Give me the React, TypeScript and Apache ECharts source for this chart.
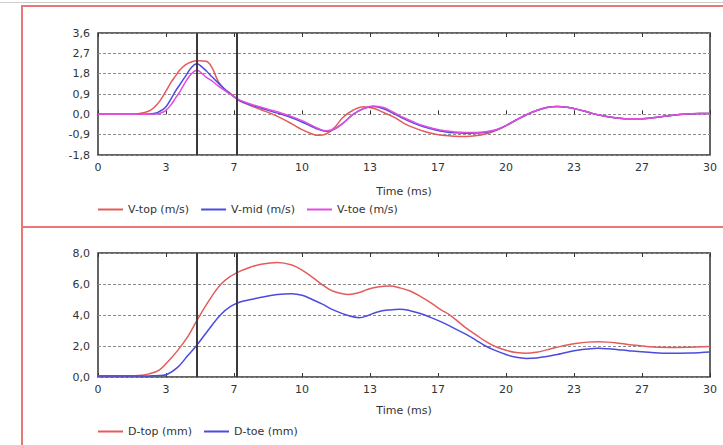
import React, { useEffect, useRef } from "react";
import * as echarts from "echarts";

// ---- Data ----
const markerTimes = [4.85, 6.82];
const xTickInterval = 10 / 3;

const vTime = [0, 1, 1.5, 2, 2.5, 2.8, 3, 3.3, 3.6, 3.8, 4, 4.3, 4.6, 4.85, 5, 5.3, 5.6, 5.9, 6.2, 6.5, 6.9, 7.5, 8, 8.5, 9, 9.5, 10, 10.5, 10.8, 11.2, 11.6, 12, 12.5, 13, 13.5, 14, 14.5, 15, 15.5, 16, 16.5, 17, 17.5, 18, 18.5, 19, 19.5, 20, 20.5, 21, 21.5, 22, 22.5, 23, 23.5, 24, 24.5, 25, 25.5, 26, 26.5, 27, 27.5, 28, 28.5, 29, 29.5, 30];
const vTop = [0, 0, 0, 0.03, 0.15, 0.35, 0.55, 0.98, 1.45, 1.7, 1.95, 2.2, 2.33, 2.37, 2.37, 2.35, 2.05, 1.45, 1.12, 0.92, 0.62, 0.38, 0.2, 0.03, -0.18, -0.42, -0.68, -0.87, -0.93, -0.86, -0.58, -0.14, 0.18, 0.34, 0.27, 0.08, -0.12, -0.4, -0.6, -0.76, -0.87, -0.94, -0.97, -0.98, -0.95, -0.87, -0.72, -0.5, -0.25, -0.02, 0.17, 0.3, 0.35, 0.31, 0.22, 0.1, -0.02, -0.11, -0.17, -0.2, -0.2, -0.17, -0.12, -0.06, -0.01, 0.02, 0.04, 0.04];
const vMid = [0, 0, 0, 0, 0.01, 0.05, 0.12, 0.3, 0.72, 1.03, 1.3, 1.7, 2.1, 2.24, 2.17, 1.93, 1.65, 1.38, 1.12, 0.9, 0.63, 0.42, 0.28, 0.13, 0.0, -0.15, -0.34, -0.55, -0.66, -0.75, -0.65, -0.4, 0.0, 0.25, 0.35, 0.25, 0.03, -0.2, -0.4, -0.56, -0.68, -0.77, -0.82, -0.84, -0.83, -0.8, -0.7, -0.5, -0.25, -0.02, 0.17, 0.3, 0.35, 0.31, 0.22, 0.1, -0.02, -0.11, -0.17, -0.2, -0.2, -0.17, -0.12, -0.06, -0.01, 0.02, 0.04, 0.04];
const vToe = [0, 0, 0, 0, 0, 0.01, 0.04, 0.15, 0.45, 0.72, 0.98, 1.45, 1.82, 1.95, 1.88, 1.65, 1.47, 1.25, 1.06, 0.88, 0.65, 0.45, 0.32, 0.18, 0.05, -0.1, -0.28, -0.5, -0.63, -0.73, -0.64, -0.4, -0.01, 0.24, 0.37, 0.3, 0.08, -0.15, -0.35, -0.52, -0.64, -0.73, -0.78, -0.8, -0.8, -0.77, -0.68, -0.5, -0.25, -0.02, 0.17, 0.3, 0.35, 0.31, 0.22, 0.1, -0.02, -0.11, -0.17, -0.2, -0.2, -0.17, -0.12, -0.06, -0.01, 0.02, 0.04, 0.04];

const dTime = [0, 1, 2, 2.5, 3, 3.4, 3.9, 4.4, 4.85, 5.4, 6, 6.5, 7, 7.5, 8, 8.8, 9.5, 10, 10.5, 11, 11.5, 12.3, 12.8, 13.2, 13.7, 14.3, 14.8, 15.3, 15.8, 16.3, 16.8, 17.3, 18, 18.5, 19, 19.5, 20, 20.5, 21, 21.5, 22, 22.5, 23, 23.5, 24, 24.5, 25, 25.5, 26, 27, 28, 29, 30];
const dTop = [0.08, 0.08, 0.1, 0.2, 0.45, 0.95, 1.7, 2.6, 3.65, 4.85, 5.95, 6.5, 6.85, 7.1, 7.28, 7.38, 7.22, 6.9, 6.45, 5.95, 5.55, 5.33, 5.45, 5.65, 5.8, 5.87, 5.75, 5.55, 5.2, 4.8, 4.35, 3.95, 3.2, 2.75, 2.3, 1.95, 1.72, 1.58, 1.53, 1.6, 1.75, 1.92, 2.07, 2.18, 2.25, 2.28, 2.25, 2.18, 2.1, 1.95, 1.9, 1.92, 1.96];
const dToe = [0.06, 0.06, 0.06, 0.07, 0.09, 0.18, 0.62, 1.38, 2.06, 3.02, 4.0, 4.55, 4.85, 5.0, 5.14, 5.32, 5.37, 5.27, 5.0, 4.7, 4.35, 3.95, 3.83, 3.95, 4.2, 4.33, 4.37, 4.28, 4.1, 3.85, 3.57, 3.25, 2.78, 2.4, 2.0, 1.7, 1.45, 1.27, 1.2, 1.23, 1.32, 1.45, 1.6, 1.72, 1.8, 1.85, 1.82, 1.76, 1.7, 1.6, 1.53, 1.55, 1.62];

const vNames = ["V-top (m/s)", "V-mid (m/s)", "V-toe (m/s)"];
const dNames = ["D-top (mm)", "D-toe (mm)"];
const xName = "Time (ms)";

const RED = "#e45b5b";
const BLUE = "#4b4be0";
const MAGENTA = "#e04ee0";
const FONT = "DejaVu Sans";

const pair = (t: number[], v: number[]) => t.map((x, i) => [x, v[i]]);
const fmtComma = (v: number) => (Math.abs(v) < 1e-9 ? 0 : v).toFixed(1).replace(".", ",");

export default function App() {
  const ref = useRef<HTMLDivElement>(null);
  useEffect(() => {
    if (!ref.current) return;
    const chart = echarts.init(ref.current, null, { renderer: "svg" });
    const txt = { fontFamily: FONT, fontSize: 11, color: "#333" };
    const grids = [
      { left: 98, right: 13, top: 33, height: 122 },
      { left: 98, right: 13, top: 253, height: 124 },
    ].map((g) => ({ ...g, show: true, borderColor: "#333", borderWidth: 1.5, backgroundColor: "transparent" }));

    const xBottom = (gi: number, gap: number) => ({
      type: "value", gridIndex: gi, min: 0, max: 30, interval: xTickInterval,
      axisLine: { show: false },
      axisTick: { show: true, inside: true, length: 4, lineStyle: { color: "#333" } },
      axisLabel: { ...txt, margin: 7, formatter: (v: number) => String(Math.round(v)) },
      splitLine: { show: false },
      name: xName, nameLocation: "middle", nameGap: gap,
      nameTextStyle: { ...txt },
    });
    const xTop = (gi: number) => ({
      type: "value", gridIndex: gi, position: "top", min: 0, max: 30, interval: xTickInterval,
      axisLine: { show: false },
      axisTick: { show: true, inside: true, length: 4, lineStyle: { color: "#333" } },
      axisLabel: { show: false }, splitLine: { show: false },
    });
    const yAxis = (gi: number, min: number, max: number, interval: number) => ({
      type: "value", gridIndex: gi, min, max, interval,
      axisLine: { show: false }, axisTick: { show: false },
      axisLabel: { ...txt, margin: 8, formatter: fmtComma },
      splitLine: { show: true, lineStyle: { color: "#8a8a8a", type: [3, 2], width: 1 } },
    });
    const markLine = {
      silent: true, symbol: "none", label: { show: false },
      lineStyle: { color: "#3a3a3a", width: 2, type: "solid" },
      data: markerTimes.map((t) => ({ xAxis: t })),
    };
    const line = (name: string, data: number[][], color: string, xi: number, yi: number, ml?: any) => ({
      type: "line", name, data, xAxisIndex: xi, yAxisIndex: yi,
      showSymbol: false, symbol: "none", smooth: 0.4,
      lineStyle: { color, width: 1.5 }, itemStyle: { color },
      ...(ml ? { markLine: ml } : {}),
    });
    const legendBase = { icon: "rect", itemWidth: 25, itemHeight: 2, itemGap: 12, textStyle: { ...txt }, selectedMode: false };

    chart.setOption({
      animation: false,
      backgroundColor: "#fff",
      textStyle: { fontFamily: FONT },
      grid: grids,
      xAxis: [xBottom(0, 31), xBottom(1, 28), xTop(0), xTop(1)],
      yAxis: [yAxis(0, -1.8, 3.6, 0.9), yAxis(1, 0, 8, 2)],
      legend: [
        { ...legendBase, data: vNames, left: 93, top: 199 },
        { ...legendBase, data: dNames, left: 93, top: 421 },
      ],
      graphic: [
        { type: "line", shape: { x1: 0, y1: 2.5, x2: 723, y2: 2.5 }, style: { stroke: "#cfcfcf", lineWidth: 1 }, silent: true },
        { type: "rect", shape: { x: 22, y: 6, width: 720, height: 221 }, style: { fill: "none", stroke: "#e87878", lineWidth: 2 }, silent: true },
        { type: "rect", shape: { x: 22, y: 227, width: 720, height: 240 }, style: { fill: "none", stroke: "#e87878", lineWidth: 2 }, silent: true },
      ],
      series: [
        line(vNames[0], pair(vTime, vTop), RED, 0, 0, markLine),
        line(vNames[1], pair(vTime, vMid), BLUE, 0, 0),
        line(vNames[2], pair(vTime, vToe), MAGENTA, 0, 0),
        line(dNames[0], pair(dTime, dTop), RED, 1, 1, markLine),
        line(dNames[1], pair(dTime, dToe), BLUE, 1, 1),
      ],
    });
    return () => chart.dispose();
  }, []);
  return <div ref={ref} style={{ position: "absolute", left: 0, top: 0, width: 723, height: 445 }} />;
}
